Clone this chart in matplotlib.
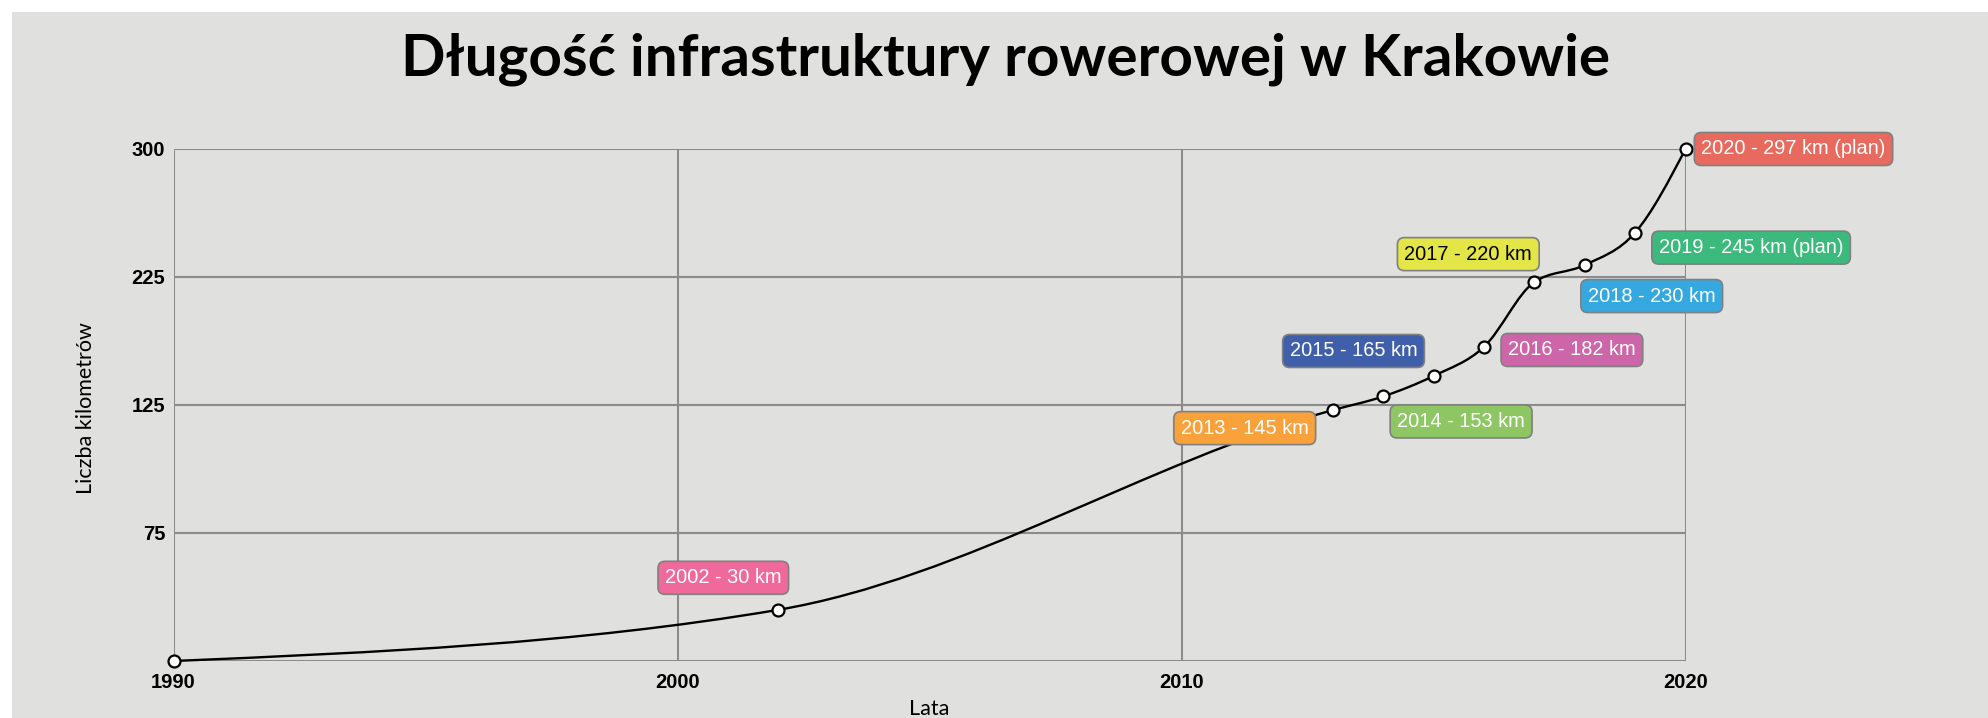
import matplotlib
matplotlib.use("Agg")
import matplotlib.pyplot as plt
from matplotlib.path import Path
from matplotlib.patches import PathPatch, Rectangle
import numpy as np

# ---- data ----
years = [1990, 2002, 2013, 2014, 2015, 2016, 2017, 2018, 2019, 2020]
km = [0, 30, 147, 155, 167, 184, 222, 232, 251, 300]
label_texts = [None, "2002 - 30 km", "2013 - 145 km", "2014 - 153 km", "2015 - 165 km",
               "2016 - 182 km", "2017 - 220 km", "2018 - 230 km", "2019 - 245 km (plan)",
               "2020 - 297 km (plan)"]
label_colors = [None, "#ef6a9a", "#f9a23b", "#8dc663", "#3f5faa", "#cc66a9",
                "#e3e646", "#35a9df", "#3cb97c", "#e8695d"]
label_text_colors = [None, "white", "white", "white", "white", "white",
                     "black", "white", "white", "white"]
x_ticks = [1990, 2000, 2010, 2020]
y_ticks = [0, 75, 150, 225, 300]
y_tick_labels = ["", "75", "125", "225", "300"]

# label offsets (pixels, relative to point) -- layout only
label_offsets = [None, (-55, 32), (-88, -18), (78, -25), (-80, 25), (88, -3),
                 (-66, 28), (67, -31), (116, -15), (108, 0)]

W, H, DPI = 1988, 718, 100
BG = "#e0e0de"
GRID = "#8c8c8c"

fig = plt.figure(figsize=(W / DPI, H / DPI), dpi=DPI, facecolor="white")
fig.patches.append(Rectangle((12 / W, 0), 1 - 12 / W, 1 - 12 / H, transform=fig.transFigure,
                             facecolor=BG, edgecolor="none", zorder=-10))

ax = fig.add_axes([173.5 / W, 57 / H, (1685.5 - 173.5) / W, (661 - 149) / H])
ax.set_facecolor("none")
ax.set_xlim(1990, 2020)
ax.set_ylim(0, 300)
for s in ax.spines.values():
    s.set_visible(False)
ax.set_xticks(x_ticks)
ax.set_yticks(y_ticks)
ax.set_yticklabels(y_tick_labels)
ax.grid(True, color=GRID, linewidth=1.5, zorder=0)
ax.set_axisbelow(True)
ax.tick_params(length=0)
ax.tick_params(axis="x", pad=9)
ax.tick_params(axis="y", pad=6)
for lab in ax.get_xticklabels() + ax.get_yticklabels():
    lab.set_fontfamily("Liberation Sans")
    lab.set_fontweight("bold")
    lab.set_fontsize(14.5)

# ---- monotone-X cubic curve (d3 curveMonotoneX) ----
x = np.array(years, dtype=float)
y = np.array(km, dtype=float)
n = len(x)
h = np.diff(x)
s = np.diff(y) / h
t = np.zeros(n)
for i in range(1, n - 1):
    h0, h1 = h[i - 1], h[i]
    s0, s1 = s[i - 1], s[i]
    p = (s0 * h1 + s1 * h0) / (h0 + h1)
    t[i] = (np.sign(s0) + np.sign(s1)) * min(abs(s0), abs(s1), 0.5 * abs(p))
t[0] = (3 * s[0] - t[1]) / 2
t[-1] = (3 * s[-1] - t[-2]) / 2
verts = [(x[0], y[0])]
codes = [Path.MOVETO]
for i in range(n - 1):
    dx = h[i] / 3
    verts += [(x[i] + dx, y[i] + dx * t[i]), (x[i + 1] - dx, y[i + 1] - dx * t[i + 1]),
              (x[i + 1], y[i + 1])]
    codes += [Path.CURVE4] * 3
ax.add_patch(PathPatch(Path(verts, codes), facecolor="none", edgecolor="black",
                       linewidth=1.7, zorder=3, clip_on=False))
ax.plot(years, km, linestyle="none", marker="o", markersize=8.6, markerfacecolor="white",
        markeredgecolor="black", markeredgewidth=1.6, zorder=4, clip_on=False)

for i in range(n):
    if label_texts[i] is None:
        continue
    ax.annotate(label_texts[i], xy=(years[i], km[i]), xytext=label_offsets[i],
                textcoords="offset pixels", ha="center", va="center",
                fontsize=14.4, family="Liberation Sans", color=label_text_colors[i],
                bbox=dict(boxstyle="round,pad=0.35,rounding_size=0.35",
                          facecolor=label_colors[i], edgecolor="#808080", linewidth=1.2),
                annotation_clip=False, zorder=6)

# ---- texts ----
title = fig.text(1006 / W, 1 - 75 / H, "Długość infrastruktury rowerowej w Krakowie",
                 ha="center", va="baseline", fontsize=40, fontweight="bold",
                 family=["Lato", "DejaVu Sans"])
fig.canvas.draw()
bb = title.get_window_extent()
title.set_fontsize(40 * 1208 / bb.width)

fig.text(86 / W, 1 - 408 / H, "Liczba kilometrów", rotation=90, ha="center", va="center",
         fontsize=15.5, family=["Lato", "DejaVu Sans"])
fig.text(929 / W, 1 - 699 / H, "Lata", ha="center", va="top",
         fontsize=15.5, family=["Lato", "DejaVu Sans"])

fig.savefig("out.png", dpi=DPI, facecolor="white")
